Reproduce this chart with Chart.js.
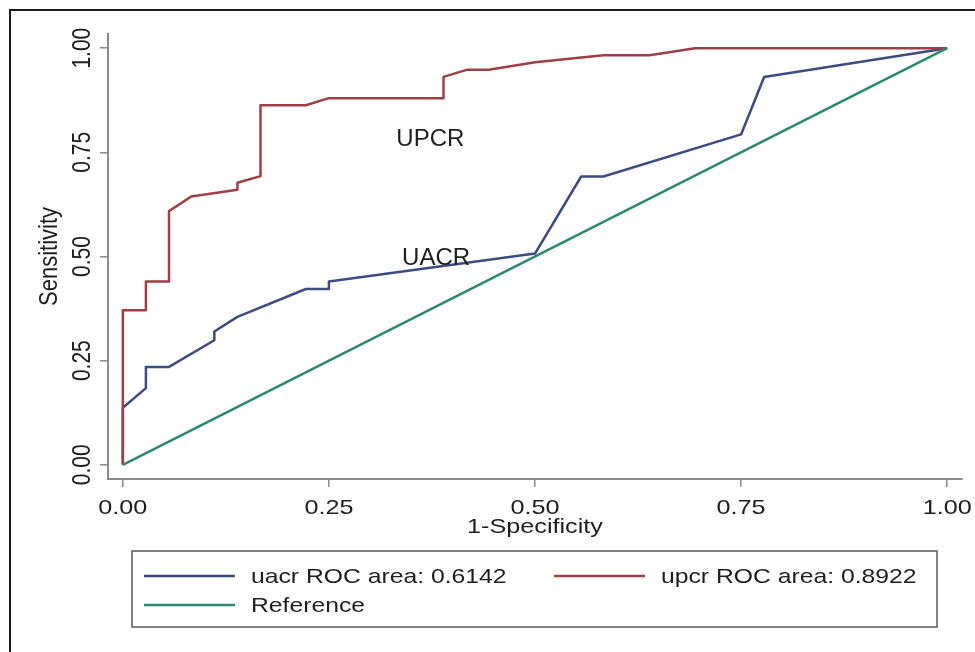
<!DOCTYPE html>
<html>
<head>
<meta charset="utf-8">
<script src="https://cdn.jsdelivr.net/npm/chart.js@4.4.1/dist/chart.umd.min.js"></script>
<style>
  html, body { margin: 0; padding: 0; background: #fff; }
  #wrap { position: relative; width: 975px; height: 652px; overflow: hidden; }
  #frame {
    position: absolute; left: 9px; top: 9px; width: 1000px; height: 700px;
    border-top: 2px solid #1c1c1c; border-left: 2px solid #1c1c1c;
    pointer-events: none;
  }
</style>
</head>
<body>
<div id="wrap">
  <canvas id="roc" width="975" height="652"></canvas>
  <div id="frame"></div>
</div>
<script>
// ROC points (1-specificity, sensitivity)
const uacrFpr = [0, 0, 0.028, 0.028, 0.056, 0.111, 0.111, 0.139, 0.222, 0.25, 0.25, 0.5, 0.556, 0.583, 0.75, 0.778, 1];
const uacrTpr = [0, 0.137, 0.184, 0.235, 0.235, 0.299, 0.320, 0.355, 0.422, 0.422, 0.440, 0.507, 0.692, 0.692, 0.793, 0.931, 1];

const upcrFpr = [0, 0, 0.028, 0.028, 0.056, 0.056, 0.083, 0.139, 0.139, 0.167, 0.167, 0.222, 0.25, 0.389, 0.389, 0.417, 0.444, 0.5, 0.583, 0.639, 0.694, 1];
const upcrTpr = [0, 0.371, 0.371, 0.440, 0.440, 0.609, 0.644, 0.660, 0.677, 0.693, 0.863, 0.863, 0.880, 0.880, 0.931, 0.948, 0.948, 0.966, 0.983, 0.983, 1, 1];

const refFpr = [0, 1];
const refTpr = [0, 1];

const rocAreas = [0.6142, 0.8922];
const seriesNames = ["uacr", "upcr"];

const xTicks = [0, 0.25, 0.5, 0.75, 1];
const xTickLabels = ["0.00", "0.25", "0.50", "0.75", "1.00"];
const yTicks = [0, 0.25, 0.5, 0.75, 1];
const yTickLabels = ["0.00", "0.25", "0.50", "0.75", "1.00"];

const xTitle = "1-Specificity";
const yTitle = "Sensitivity";

// text labels placed on the curves, in data units
const curveNotes = [
    { text: "UPCR", x: 0.373, y: 0.782 },
    { text: "UACR", x: 0.380, y: 0.496 }
];

const FONT = "'Liberation Sans', Arial, sans-serif";
const TEXT = "#1e1e1e";
const AXIS = "#8a8a8a";
const BLUE = "#3d4b82";
const RED = "#9e3f47";
const GREEN = "#2f876f";
// the source picture is a little wider than tall, so its text is stretched sideways
const SX = 1.2;

function pts(xs, ys) {
    return xs.map((x, i) => ({ x: x, y: ys[i] }));
}

function wideText(ctx, str, x, y, angle) {
    ctx.save();
    ctx.translate(x, y);
    ctx.scale(SX, 1);
    if (angle) ctx.rotate(angle);
    ctx.fillText(str, 0, 0);
    ctx.restore();
}

const extras = {
    id: "extras",
    afterDraw(chart) {
        const ctx = chart.ctx;
        const xs = chart.scales.x;
        const ys = chart.scales.y;
        ctx.save();
        ctx.fillStyle = TEXT;
        ctx.textAlign = "center";
        ctx.textBaseline = "middle";

        // x tick labels and title
        ctx.font = `21px ${FONT}`;
        xTicks.forEach((v, i) => wideText(ctx, xTickLabels[i], xs.getPixelForValue(v), xs.top + 29));
        wideText(ctx, xTitle, (xs.left + xs.right) / 2, xs.top + 48);

        // y tick labels (vertical) and title
        yTicks.forEach((v, i) => wideText(ctx, yTickLabels[i], ys.right - 25, ys.getPixelForValue(v), -Math.PI / 2));
        ctx.font = `22px ${FONT}`;
        wideText(ctx, yTitle, ys.left + 40, (ys.top + ys.bottom) / 2, -Math.PI / 2);

        // curve names
        ctx.font = `24px ${FONT}`;
        curveNotes.forEach(n => {
            ctx.fillText(n.text, xs.getPixelForValue(n.x), ys.getPixelForValue(n.y));
        });

        // legend box under the plot
        const box = { left: 132, top: 551, width: 805, height: 76 };
        ctx.strokeStyle = "#5a5a5a";
        ctx.lineWidth = 1.5;
        ctx.strokeRect(box.left, box.top, box.width, box.height);

        const slots = [[144, 576], [554, 576], [144, 605]];
        ctx.font = `20.6px ${FONT}`;
        ctx.textAlign = "left";
        chart.data.datasets.forEach((ds, i) => {
            const [lx, ly] = slots[i];
            ctx.strokeStyle = ds.borderColor;
            ctx.lineWidth = 2.5;
            ctx.beginPath();
            ctx.moveTo(lx, ly);
            ctx.lineTo(lx + 91, ly);
            ctx.stroke();
            wideText(ctx, ds.label, lx + 107, ly + 1);
        });
        ctx.restore();
    }
};

new Chart(document.getElementById("roc"), {
    type: "line",
    data: {
        datasets: [
            {
                label: `${seriesNames[0]} ROC area: ${rocAreas[0].toFixed(4)}`,
                data: pts(uacrFpr, uacrTpr),
                borderColor: BLUE, borderWidth: 2.5, order: 3
            },
            {
                label: `${seriesNames[1]} ROC area: ${rocAreas[1].toFixed(4)}`,
                data: pts(upcrFpr, upcrTpr),
                borderColor: RED, borderWidth: 2.5, order: 2
            },
            {
                label: "Reference",
                data: pts(refFpr, refTpr),
                borderColor: GREEN, borderWidth: 2.5, order: 1
            }
        ]
    },
    options: {
        responsive: false,
        animation: false,
        devicePixelRatio: 1,
        layout: { padding: { left: 10, top: 34, right: 13, bottom: 113 } },
        elements: {
            point: { radius: 0 },
            line: { tension: 0, fill: false, borderJoinStyle: "round" }
        },
        plugins: {
            legend: { display: false },
            tooltip: { enabled: false }
        },
        scales: {
            x: {
                type: "linear",
                min: -0.018,
                max: 1.018,
                afterBuildTicks: s => { s.ticks = xTicks.map(v => ({ value: v })); },
                afterFit: s => { s.height = 60; s.paddingLeft = 0; s.paddingRight = 0; },
                ticks: { display: false },
                grid: { display: true, drawOnChartArea: false, drawTicks: true, tickLength: 8, color: AXIS, lineWidth: 1.5 },
                border: { display: true, color: AXIS, width: 2 }
            },
            y: {
                type: "linear",
                min: -0.034,
                max: 1.034,
                afterBuildTicks: s => { s.ticks = yTicks.map(v => ({ value: v })); },
                afterFit: s => { s.width = 98; s.paddingTop = 0; s.paddingBottom = 0; },
                ticks: { display: false },
                grid: { display: true, drawOnChartArea: false, drawTicks: true, tickLength: 8, color: AXIS, lineWidth: 1.5 },
                border: { display: true, color: AXIS, width: 2 }
            }
        }
    },
    plugins: [extras]
});
</script>
</body>
</html>
